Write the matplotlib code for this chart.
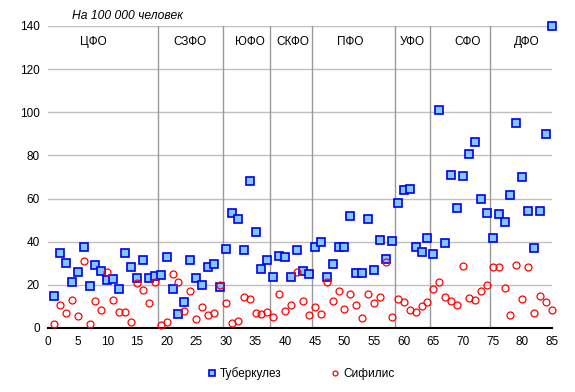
import numpy as np
from matplotlib import pyplot as plt

plt.rcParams['font.family'] = ['Liberation Sans', 'DejaVu Sans']

# Номер региона 1..85
regions = np.arange(1, 86)

# Туберкулез, на 100 000 человек
tb = [14.8, 34.6, 30.0, 21.2, 26.0, 37.4, 19.5, 29.1, 26.3, 22.3,
      22.7, 18.1, 34.6, 28.1, 23.2, 31.5, 23.2, 24.1, 24.5, 32.9,
      18.1, 6.5, 11.9, 31.5, 23.0, 19.8, 28.1, 29.5, 18.9, 36.5,
      53.3, 50.4, 36.2, 68.0, 44.5, 27.4, 31.4, 23.5, 33.2, 32.8,
      23.5, 36.0, 26.3, 24.9, 37.4, 39.7, 23.5, 29.5, 37.4, 37.4,
      51.8, 25.3, 25.3, 50.4, 26.7, 40.6, 31.8, 40.2, 57.8, 63.8,
      64.3, 37.6, 35.1, 41.7, 34.2, 100.9, 39.3, 70.8, 55.5, 70.3,
      80.7, 86.1, 59.6, 53.2, 41.7, 52.7, 49.0, 61.5, 94.9, 69.9,
      54.1, 37.1, 54.1, 89.8, 140.0]

# Сифилис, на 100 000 человек
syph = [1.7, 10.5, 6.8, 12.8, 5.6, 30.9, 1.7, 12.4, 8.2, 25.8,
        12.8, 7.3, 7.3, 2.6, 20.7, 17.5, 11.4, 21.2, 1.4, 2.6,
        24.9, 21.2, 8.0, 17.0, 4.0, 9.6, 5.9, 6.8, 19.8, 11.4,
        2.2, 3.1, 14.4, 13.3, 6.8, 6.3, 7.3, 4.9, 15.6, 7.7,
        10.5, 25.8, 12.4, 5.9, 9.6, 6.3, 21.2, 12.4, 17.0, 8.7,
        15.6, 10.5, 4.5, 15.6, 11.4, 14.4, 30.4, 4.9, 13.3, 11.9,
        8.2, 7.3, 10.0, 11.9, 17.9, 21.2, 14.2, 12.4, 10.5, 28.6,
        13.8, 12.8, 17.0, 19.8, 28.1, 28.1, 18.4, 5.9, 29.1, 13.3,
        28.1, 6.8, 14.7, 11.9, 8.2]

# Федеральные округа: границы и подписи
borders = [18.5, 29.5, 37.5, 44.5, 58.5, 64.5, 74.5]
district_names = ['ЦФО', 'СЗФО', 'ЮФО', 'СКФО', 'ПФО', 'УФО', 'СФО', 'ДФО']
label_x = [7.7, 24.0, 34.1, 41.3, 50.9, 61.5, 70.7, 80.8]

fig = plt.figure(figsize=(5.75, 3.92), dpi=100)
ax = fig.add_axes([48 / 575, 1 - 328 / 392, 504 / 575, 302 / 392])

for y in range(20, 141, 20):
    ax.axhline(y, color='#c0c0c0', lw=1, zorder=0)
for b in borders:
    ax.axvline(b, color='#999999', lw=1, zorder=1)

ax.plot(regions, tb, 's', ms=5.2, mfc='#80c8ff', mec='#0000ee', mew=1.2,
        label='Туберкулез', zorder=3, clip_on=False)
ax.plot(regions, syph, 'o', ms=5, mfc='none', mec='#ff0000', mew=0.9,
        label='Сифилис', zorder=3, clip_on=False)

for name, x in zip(district_names, label_x):
    ax.text(x, 132.5, name, ha='center', va='center', fontsize=8.5)

ax.text(4, 144.5, 'На 100 000 человек', fontsize=8.7,
        style='italic', ha='left', va='center')

ax.set_xlim(0, 85)
ax.set_ylim(0, 140)
ax.set_xticks(range(0, 86, 5))
ax.set_yticks(range(0, 141, 20))
ax.tick_params(length=0, labelsize=8.5, pad=6)
for s in ['left', 'right', 'top']:
    ax.spines[s].set_visible(False)
ax.spines['bottom'].set_linewidth(1.5)
ax.spines['bottom'].set_color('black')

fig.legend(loc='center', bbox_to_anchor=(0.522, 0.046), ncol=2,
           frameon=False, fontsize=8.5, markerscale=0.7, handletextpad=0.2,
           columnspacing=4.0, handlelength=1)

fig.savefig('out.png', dpi=100)
